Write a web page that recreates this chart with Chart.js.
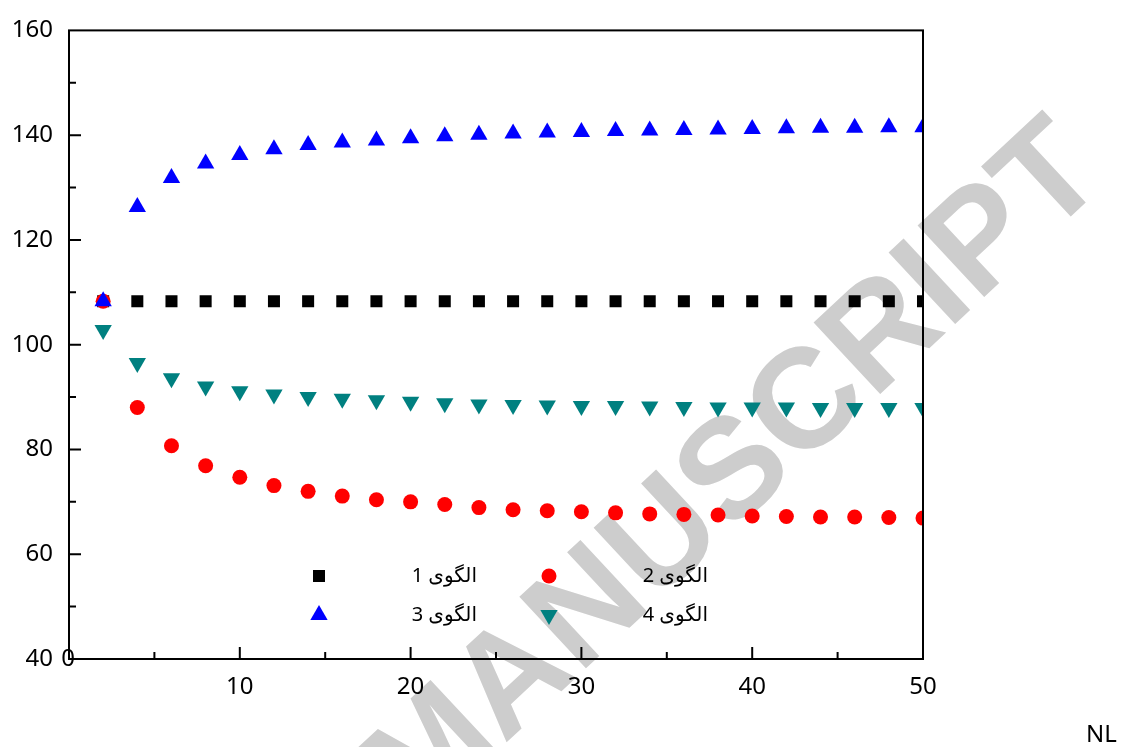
<!DOCTYPE html>
<html>
<head>
<meta charset="utf-8">
<script src="https://cdn.jsdelivr.net/npm/chart.js@4"></script>
<style>
  html, body { margin: 0; padding: 0; background: #fff; }
  canvas { display: block; }
</style>
</head>
<body>
<canvas id="nl-chart" width="1123" height="747"></canvas>
<script>
// NL values on the x axis
const nlValues = [2, 4, 6, 8, 10, 12, 14, 16, 18, 20, 22, 24, 26, 28, 30, 32, 34, 36, 38, 40, 42, 44, 46, 48, 50];

const pattern1 = [108.3, 108.3, 108.3, 108.3, 108.3, 108.3, 108.3, 108.3, 108.3, 108.3, 108.3, 108.3, 108.3,
                  108.3, 108.3, 108.3, 108.3, 108.3, 108.3, 108.3, 108.3, 108.3, 108.3, 108.3, 108.3];
const pattern2 = [108.3, 88.0, 80.7, 76.9, 74.7, 73.1, 72.0, 71.1, 70.4, 70.0, 69.5, 68.9, 68.5,
                  68.3, 68.1, 67.9, 67.7, 67.6, 67.5, 67.3, 67.2, 67.1, 67.1, 67.0, 66.9];
const pattern3 = [108.3, 126.3, 131.8, 134.6, 136.2, 137.3, 138.1, 138.6, 139.0, 139.4, 139.8, 140.1, 140.3,
                  140.5, 140.6, 140.8, 140.9, 141.0, 141.1, 141.2, 141.3, 141.4, 141.4, 141.5, 141.5];
const pattern4 = [102.8, 96.5, 93.6, 92.0, 91.1, 90.5, 90.0, 89.7, 89.4, 89.1, 88.8, 88.6, 88.5,
                  88.4, 88.3, 88.3, 88.2, 88.1, 88.0, 88.0, 88.0, 87.9, 87.9, 87.9, 87.9];

const seriesNames = ['الگوی 1', 'الگوی 2', 'الگوی 3', 'الگوی 4'];

const xMajor = [10, 20, 30, 40, 50];
const xMinor = [5, 15, 25, 35, 45];
const yMajor = [60, 80, 100, 120, 140];
const yMinor = [50, 70, 90, 110, 130, 150];

const FONT = '"Noto Sans", "Open Sans", "DejaVu Sans", sans-serif';

function toPoints(ys) {
  return nlValues.map((x, i) => ({ x: x, y: ys[i] }));
}

// order: larger numbers are painted first (further back)
const styles = [
  { color: '#000000', pointStyle: 'rect', radius: 8.5, rotation: 0, order: 4 },
  { color: '#ff0000', pointStyle: 'circle', radius: 7.5, rotation: 0, order: 2 },
  { color: '#0000ff', pointStyle: 'triangle', radius: 10, rotation: 0, order: 1 },
  { color: '#008080', pointStyle: 'triangle', radius: 10, rotation: 180, order: 3 }
];

const allSeries = [pattern1, pattern2, pattern3, pattern4];

const datasets = allSeries.map((ys, i) => ({
  label: seriesNames[i],
  data: toPoints(ys),
  order: styles[i].order,
  showLine: false,
  pointStyle: styles[i].pointStyle,
  pointRadius: styles[i].radius,
  pointHoverRadius: styles[i].radius,
  pointRotation: styles[i].rotation,
  pointBackgroundColor: styles[i].color,
  pointBorderWidth: 0,
  borderColor: styles[i].color,
  backgroundColor: styles[i].color,
  clip: 0
}));

function drawMarker(ctx, st, x, y) {
  ctx.fillStyle = st.color;
  Chart.helpers.drawPoint(ctx, {
    pointStyle: st.pointStyle,
    radius: st.radius,
    rotation: st.rotation,
    borderWidth: 0
  }, x, y);
}

const decorations = {
  id: 'decorations',
  beforeDraw(chart) {
    // publisher watermark, underneath everything else
    const ctx = chart.ctx;
    ctx.save();
    ctx.translate(737, 474);
    ctx.rotate(-43 * Math.PI / 180);
    ctx.fillStyle = '#cdcdcd';
    ctx.font = 'bold 142px "Liberation Sans", Arial, sans-serif';
    ctx.textAlign = 'center';
    ctx.textBaseline = 'middle';
    ctx.fillText('MANUSCRIPT', 0, 0);
    ctx.restore();
  },
  afterDraw(chart) {
    const { ctx, chartArea: a, scales: { x, y } } = chart;
    ctx.save();

    // box around the plot
    ctx.strokeStyle = '#000';
    ctx.lineWidth = 2;
    ctx.strokeRect(a.left, a.top, a.right - a.left, a.bottom - a.top);

    // inward tick marks
    ctx.beginPath();
    xMajor.forEach(v => {
      const px = x.getPixelForValue(v);
      ctx.moveTo(px, a.bottom); ctx.lineTo(px, a.bottom - 12);
    });
    xMinor.forEach(v => {
      const px = x.getPixelForValue(v);
      ctx.moveTo(px, a.bottom); ctx.lineTo(px, a.bottom - 7);
    });
    yMajor.forEach(v => {
      const py = y.getPixelForValue(v);
      ctx.moveTo(a.left, py); ctx.lineTo(a.left + 12, py);
    });
    yMinor.forEach(v => {
      const py = y.getPixelForValue(v);
      ctx.moveTo(a.left, py); ctx.lineTo(a.left + 7, py);
    });
    ctx.stroke();

    // zero of the x axis, sitting beside the 40 label
    ctx.fillStyle = '#000';
    ctx.font = '24px ' + FONT;
    ctx.textAlign = 'center';
    ctx.textBaseline = 'middle';
    ctx.fillText('0', x.getPixelForValue(0) - 1, y.getPixelForValue(40));

    // axis title at the far right
    ctx.textAlign = 'left';
    ctx.fillText('NL', 1086, 735);

    // legend inside the plot
    const rows = [[0, 1], [2, 3]];
    const rowY = [576, 615];
    const markerX = [319, 549];
    const textRight = [477, 708];
    ctx.font = '20px ' + FONT;
    rows.forEach((row, r) => {
      row.forEach((idx, c) => {
        drawMarker(ctx, styles[idx], markerX[c], rowY[r]);
        ctx.fillStyle = '#000';
        ctx.direction = 'rtl';
        ctx.textAlign = 'right';
        ctx.textBaseline = 'middle';
        ctx.fillText(seriesNames[idx], textRight[c], rowY[r]);
        ctx.direction = 'ltr';
      });
    });

    ctx.restore();
  }
};

new Chart(document.getElementById('nl-chart').getContext('2d'), {
  type: 'scatter',
  data: { datasets: datasets },
  options: {
    responsive: false,
    animation: false,
    events: [],
    layout: { padding: { left: 0, right: 200, top: 26, bottom: 0 } },
    plugins: {
      legend: { display: false },
      tooltip: { enabled: false }
    },
    scales: {
      x: {
        type: 'linear',
        min: 0,
        max: 50,
        grid: { display: false, drawTicks: false },
        border: { display: false },
        ticks: {
          stepSize: 10,
          padding: 14,
          color: '#000',
          font: { family: FONT, size: 24 },
          callback: v => (v === 0 ? '' : v)
        },
        afterFit: s => { s.height = 88; }
      },
      y: {
        min: 40,
        max: 160,
        grid: { display: false, drawTicks: false },
        border: { display: false },
        ticks: {
          stepSize: 20,
          padding: 16,
          color: '#000',
          font: { family: FONT, size: 24 }
        },
        afterFit: s => { s.width = 69; }
      }
    }
  },
  plugins: [decorations]
});
</script>
</body>
</html>
